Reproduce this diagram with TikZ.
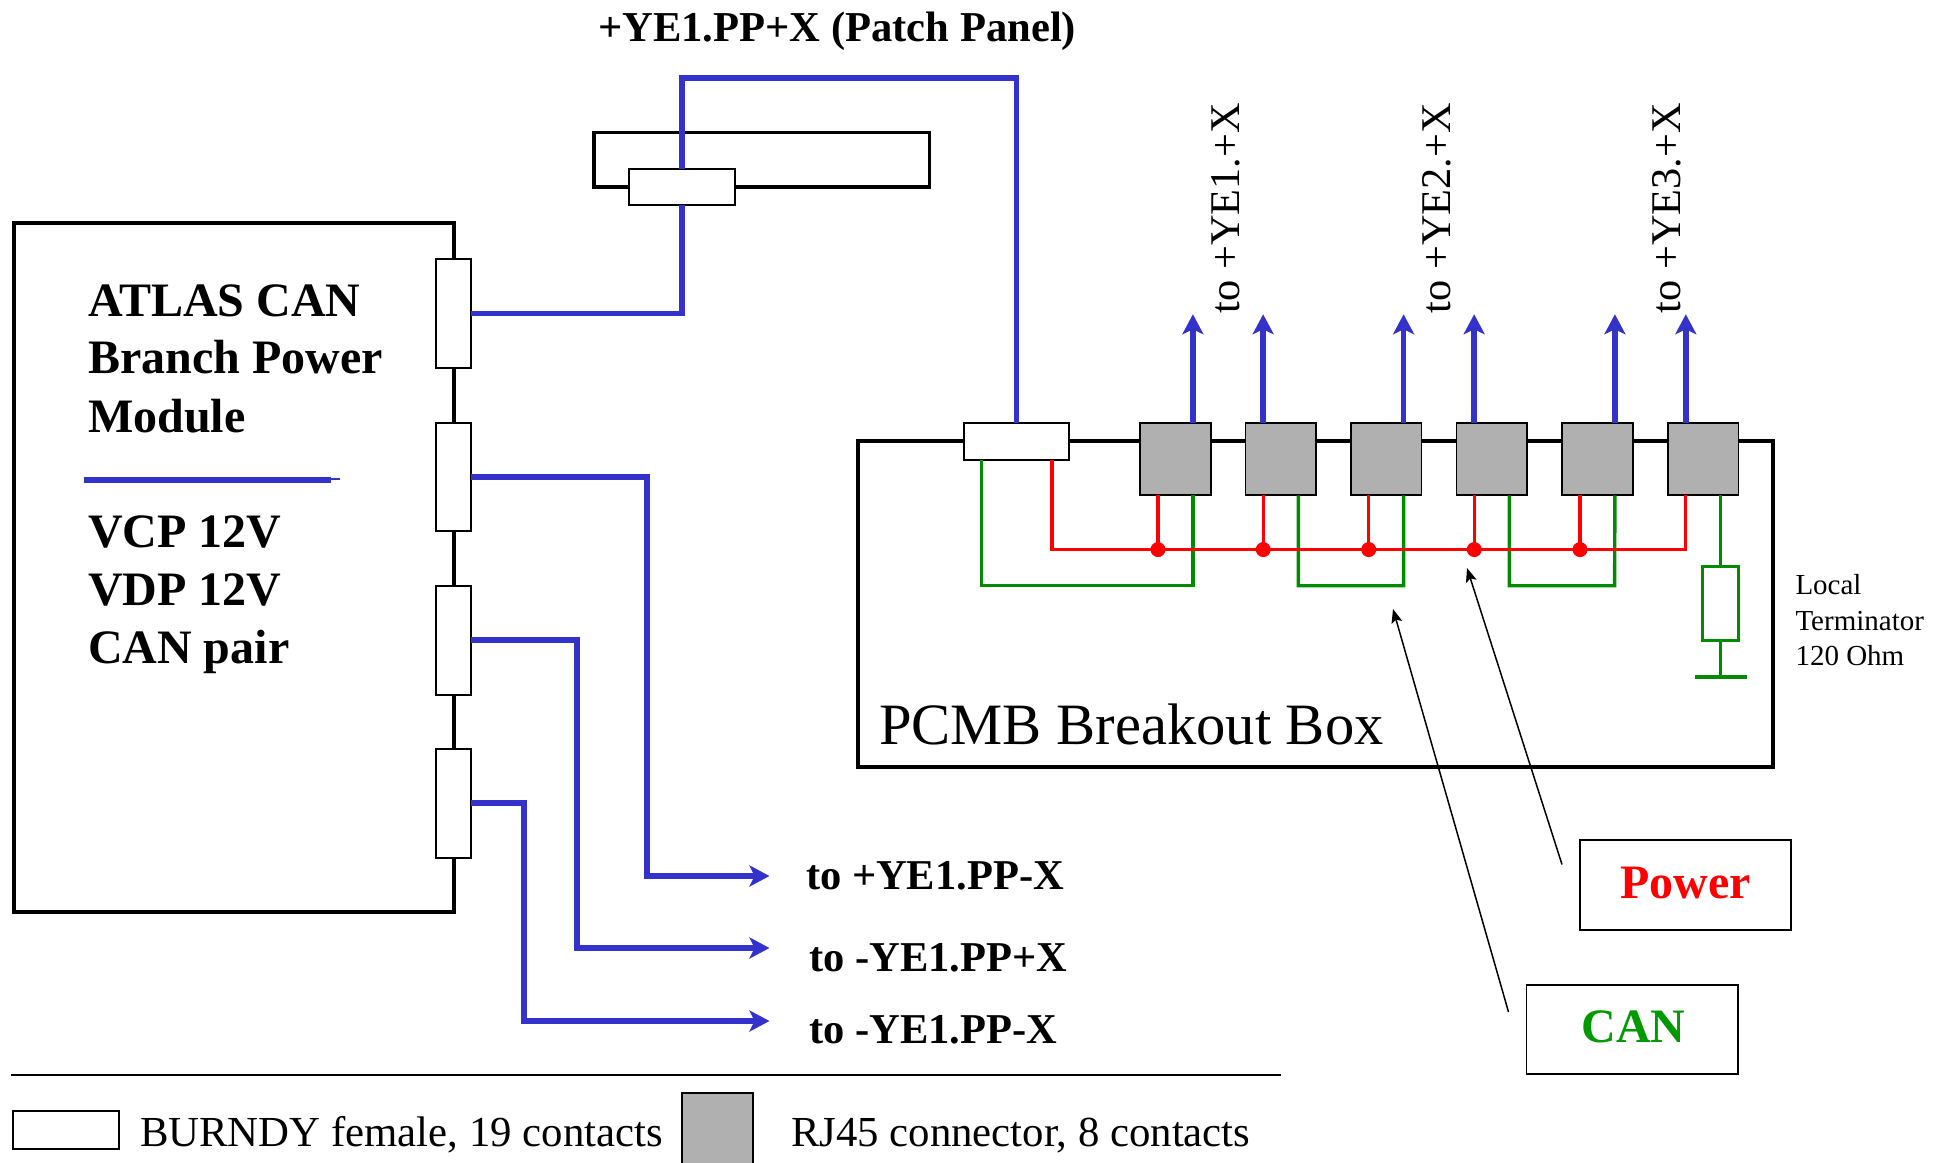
\documentclass[tikz,border=0pt]{standalone}
\usepackage{fontspec}
\setmainfont{Liberation Serif}
\usetikzlibrary{arrows.meta}
\definecolor{wireblue}{HTML}{3333CC}
\definecolor{wirered}{HTML}{FF0000}
\definecolor{wiregreen}{HTML}{008B00}
\definecolor{canlabel}{HTML}{009900}
\definecolor{rjgray}{HTML}{B0B0B0}
\tikzset{
  thickbox/.style={draw=black,line width=3.4pt,fill=none,inner sep=0pt,outer sep=0pt},
  burndy/.style={draw=black,line width=2pt,fill=white,inner sep=0pt,outer sep=0pt},
  rjbox/.style={draw=black,line width=1.8pt,fill=rjgray,inner sep=0pt,outer sep=0pt,minimum width=70.5pt,minimum height=72.5pt},
  labelbox/.style={draw=black,line width=1.6pt,fill=white,inner sep=0pt,outer sep=0pt},
  bluew/.style={draw=wireblue,line width=5.6pt,line join=miter},
  bluearrow/.style={bluew,-{Stealth[length=20pt,width=21pt,inset=5pt]}},
  redw/.style={draw=wirered,line width=3.4pt},
  greenw/.style={draw=wiregreen,line width=3.4pt},
  pointer/.style={draw=black,line width=1.5pt,-{Stealth[length=14pt,width=11pt,inset=3pt]}},
  txt/.style={inner sep=0pt,outer sep=0pt,anchor=base west},
  bigb/.style={txt,font=\fontsize{48pt}{50pt}\selectfont\bfseries},
  midb/.style={txt,font=\fontsize{42.5pt}{44pt}\selectfont\bfseries},
  reg/.style={txt,font=\fontsize{42.8pt}{44pt}\selectfont},
  small/.style={txt,font=\fontsize{29pt}{30pt}\selectfont},
  dot/.style={circle,fill=wirered,inner sep=0pt,outer sep=0pt,minimum size=15pt}
}
\begin{document}
\begin{tikzpicture}[x=1pt,y=-1pt]
\useasboundingbox (0,0) rectangle (1942,1162);
\clip (0,0) rectangle (1942,1162);
\fill[white] (0,0) rectangle (1942,1162);

% large frames
\node[thickbox,minimum width=440pt,minimum height=689pt] (module) at (234,567.5) {};
\node[thickbox,minimum width=335.5pt,minimum height=54.5pt] (panel) at (761.75,159.75) {};
\node[thickbox,minimum width=915pt,minimum height=326pt] (pcmb) at (1315.5,604) {};

% connectors on the module
\node[burndy,minimum width=35pt,minimum height=109pt] (m1) at (453,313.5) {};
\node[burndy,minimum width=35pt,minimum height=108pt] (m2) at (453,477) {};
\node[burndy,minimum width=35pt,minimum height=109pt] (m3) at (453,640) {};
\node[burndy,minimum width=35pt,minimum height=109pt] (m4) at (453,803) {};
% Burndy connectors
\node[burndy,minimum width=105.5pt,minimum height=36.5pt] (pp) at (682,186.8) {};
\node[burndy,minimum width=105.5pt,minimum height=37pt] (bb) at (1016.5,441) {};

% RJ45 connectors
\node[rjbox] (g1) at (1175.5,459) {};
\node[rjbox] (g2) at (1280.75,459) {};
\node[rjbox] (g3) at (1386.2,459) {};
\node[rjbox] (g4) at (1491.75,459) {};
\node[rjbox] (g5) at (1597.5,459) {};
\node[rjbox] (g6) at (1703.3,459) {};

% module to patch panel to breakout box
\coordinate (ppup) at (682,78);
\coordinate (bbup) at (1016.5,78);
\draw[bluew] (m1.east) -| (pp.south);
\draw[bluew] (pp.north) -- (ppup) -- (bbup) -- (bb.north);

% module outputs
\coordinate (o2) at (769.5,876);
\coordinate (o3) at (769.5,948);
\coordinate (o4) at (769.5,1021);
\coordinate (b2) at (647,876);
\coordinate (b3) at (577,948);
\coordinate (b4) at (524,1021);
\draw[bluearrow] (m2.east) -| (b2) -- (o2);
\draw[bluearrow] (m3.east) -| (b3) -- (o3);
\draw[bluearrow] (m4.east) -| (b4) -- (o4);

% module divider
\draw[bluew] (84,480) -- (331,480);
\draw[draw=wireblue,line width=2.6pt] (331,479) -- (340,479);

% upward cables from the RJ45
\foreach \n/\tx/\dx in {g1/a/17.4,g2/b/-17.6,g3/c/17.4,g4/d/-17.6,g5/e/17.4,g6/f/-17.5}{
  \coordinate (tip\tx) at ([xshift=\dx pt,yshift=108.5pt]\n.north);
  \draw[bluearrow] ([xshift=\dx pt]\n.north) -- (tip\tx);
}

% green CAN wiring
\coordinate (gn1) at (981.6,585.7);
\draw[greenw] (bb.south -| gn1) -- (gn1) -| ([xshift=17.4pt]g1.south);
\draw[greenw] ([xshift=17.6pt]g2.south) |- (1403.6,585.7) -- ([xshift=17.4pt]g3.south);
\draw[greenw] ([xshift=17.6pt]g4.south) |- (1614.6,585.7) -- ([xshift=17.4pt]g5.south);

% terminator
\node[draw=wiregreen,line width=3.4pt,fill=none,inner sep=0pt,outer sep=0pt,minimum width=36pt,minimum height=74pt] (term) at (1720.7,603.7) {};
\coordinate (gnd) at (1720.7,676.7);
\draw[greenw] ([xshift=17.4pt]g6.south) -- (term.north);
\draw[greenw] (term.south) -- (gnd);
\draw[draw=wiregreen,line width=3.6pt] (1694.7,676.7) -- (1747,676.7);

% red power wiring
\coordinate (rd) at (1052,549.3);
\draw[redw] (bb.south -| rd) -- (rd) -- (1685.7,549.3) -- ([xshift=-17.6pt]g6.south);
\foreach \n/\tx in {g1/a,g2/b,g3/c,g4/d,g5/e}{
  \node[dot] (dot\tx) at ([xshift=-17.5pt,yshift=-54.3pt]\n.south) {};
  \draw[redw] ([xshift=-17.5pt]\n.south) -- (dot\tx.center);
}

% label boxes
\node[labelbox,minimum width=211pt,minimum height=90pt] (pwr) at (1685.5,885) {};
\node[labelbox,minimum width=211.5pt,minimum height=89pt] (can) at (1632.25,1029.5) {};
\coordinate (pwrtail) at (1562,864.5);
\coordinate (pwrtip) at (1467,568);
\coordinate (cantail) at (1508.5,1012);
\coordinate (cantip) at (1393,609);
\draw[pointer] (pwrtail) -- (pwrtip);
\draw[pointer] (cantail) -- (cantip);

% bottom legend
\coordinate (rulea) at (11,1075);
\coordinate (ruleb) at (1281,1075);
\draw[line width=2pt] (rulea) -- (ruleb);
\node[burndy,minimum width=106pt,minimum height=37.5pt] (legw) at (66.4,1129.8) {};
\node[rjbox,minimum width=71pt,minimum height=100pt] (legg) at (717.5,1143) {};

% texts
\node[bigb] (t1) at (88,316.5) {ATLAS CAN};
\node[bigb] (t2) at (88,373.5) {Branch Power};
\node[bigb] (t3) at (88,432) {Module};
\node[bigb] (t4) at (88,547) {VCP 12V};
\node[bigb] (t5) at (88,605) {VDP 12V};
\node[bigb] (t6) at (88,663) {CAN pair};
\node[txt,font=\fontsize{42.6pt}{45pt}\selectfont\bfseries] (t7) at (598,41) {+YE1.PP+X (Patch Panel)};
\node[reg,font=\fontsize{42.3pt}{44pt}\selectfont,rotate=90] (t8) at (1239.5,313) {to +YE1.+X};
\node[reg,font=\fontsize{42.3pt}{44pt}\selectfont,rotate=90] (t9) at (1450.5,313) {to +YE2.+X};
\node[reg,font=\fontsize{42.3pt}{44pt}\selectfont,rotate=90] (t10) at (1680,313) {to +YE3.+X};
\node[txt,font=\fontsize{58.6pt}{60pt}\selectfont] (t11) at (879,744) {PCMB Breakout Box};
\node[small] (t12) at (1795.5,594) {Local};
\node[small] (t13) at (1795.5,630) {Terminator};
\node[small] (t14) at (1795.5,665) {120 Ohm};
\node[midb] (t15) at (806,889) {to +YE1.PP-X};
\node[midb] (t16) at (809.5,971) {to -YE1.PP+X};
\node[midb] (t17) at (809.5,1043) {to -YE1.PP-X};
\node[bigb,text=wirered] (t18) at (1620,898) {Power};
\node[bigb,text=canlabel] (t19) at (1581.5,1042) {CAN};
\node[reg] (t20) at (140,1146) {BURNDY female, 19 contacts};
\node[reg] (t21) at (791,1146) {RJ45 connector, 8 contacts};
\end{tikzpicture}
\end{document}
